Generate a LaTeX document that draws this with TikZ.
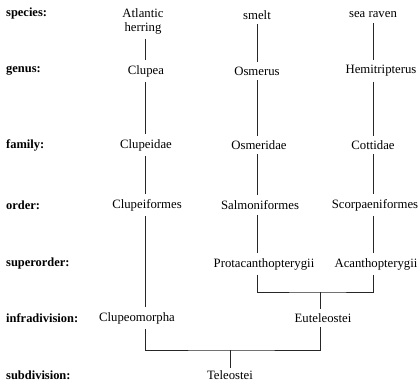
\documentclass[tikz,border=0pt]{standalone}
\usepackage{fontspec}
\setmainfont{Liberation Serif}
\begin{document}
\begin{tikzpicture}[x=1bp,y=-1bp,
  rank/.style={anchor=west,font=\fontsize{12.5}{14}\selectfont\bfseries,inner sep=0pt},
  taxon/.style={font=\fontsize{12.8}{14}\selectfont,inner sep=0pt,outer sep=5bp,align=center},
  link/.style={line width=0.8bp,draw=black!85}]
\useasboundingbox (0,0) rectangle (420,383);
% rank labels
\node[rank] (rsp)  at (6,14)  {species:};
\node[rank] (rge)  at (6,71)  {genus:};
\node[rank] (rfa)  at (6,145) {family:};
\node[rank] (ror)  at (6,205) {order:};
\node[rank] (rso)  at (6,264) {superorder:};
\node[rank] (rin)  at (6,318) {infradivision:};
\node[rank] (rsu)  at (6,375) {subdivision:};
% column coordinates
\coordinate (colA) at (145,0);
\coordinate (colB) at (257,0);
\coordinate (colC) at (373,0);
% species
\node[taxon] (herring) at (143,21) {Atlantic\\ herring};
\node[taxon] (smelt)   at (257,15) {smelt};
\node[taxon] (raven)   at (373,15) {sea raven};
% genus
\node[taxon] (clupea)  at (146,71) {Clupea};
\node[taxon] (osmerus) at (257,71) {Osmerus};
\node[taxon] (hemi)    at (381,71) {Hemitripterus};
% family
\node[taxon] (clupeidae) at (146,145) {Clupeidae};
\node[taxon] (osmeridae) at (259,145) {Osmeridae};
\node[taxon] (cottidae)  at (373,145) {Cottidae};
% order
\node[taxon] (clupeif) at (147,205) {Clupeiformes};
\node[taxon] (salmo)   at (260,205) {Salmoniformes};
\node[taxon] (scorp)   at (375,205) {Scorpaeniformes};
% superorder
\node[taxon] (protac) at (264,264) {Protacanthopterygii};
\node[taxon] (acanth) at (376,264) {Acanthopterygii};
% infradivision
\node[taxon] (clupeom) at (137,318) {Clupeomorpha};
\node[taxon] (eutel)   at (323,318) {Euteleostei};
% subdivision
\node[taxon,outer sep=3bp] (teleo) at (230,375) {Teleostei};
% junction coordinates
\coordinate (jBC) at (320,292);
\coordinate (jTel) at (230,350);
% column A
\draw[link] (herring.south -| colA) -- (clupea.north -| colA);
\draw[link] (clupea.south -| colA) -- (clupeidae.north -| colA);
\draw[link] (clupeidae.south -| colA) -- (clupeif.north -| colA);
\draw[link] (clupeif.south -| colA) -- (clupeom.north -| colA);
% column B
\draw[link] (smelt.south -| colB) -- (osmerus.north -| colB);
\draw[link] (osmerus.south -| colB) -- (osmeridae.north -| colB);
\draw[link] (osmeridae.south -| colB) -- (salmo.north -| colB);
\draw[link] (salmo.south -| colB) -- (protac.north -| colB);
% column C
\draw[link] (raven.south -| colC) -- (hemi.north -| colC);
\draw[link] (hemi.south -| colC) -- (cottidae.north -| colC);
\draw[link] (cottidae.south -| colC) -- (scorp.north -| colC);
\draw[link] (scorp.south -| colC) -- (acanth.north -| colC);
% bracket superorders -> Euteleostei
\draw[link] (protac.south -| colB) |- (jBC) -| (acanth.south -| colC);
\draw[link] (jBC) -- (eutel.north -| jBC);
% bracket infradivisions -> Teleostei
\draw[link] (clupeom.south -| colA) |- (jTel) -| (eutel.south -| jBC);
\draw[link] (jTel) -- (jTel |- teleo.north);
\end{tikzpicture}
\end{document}
